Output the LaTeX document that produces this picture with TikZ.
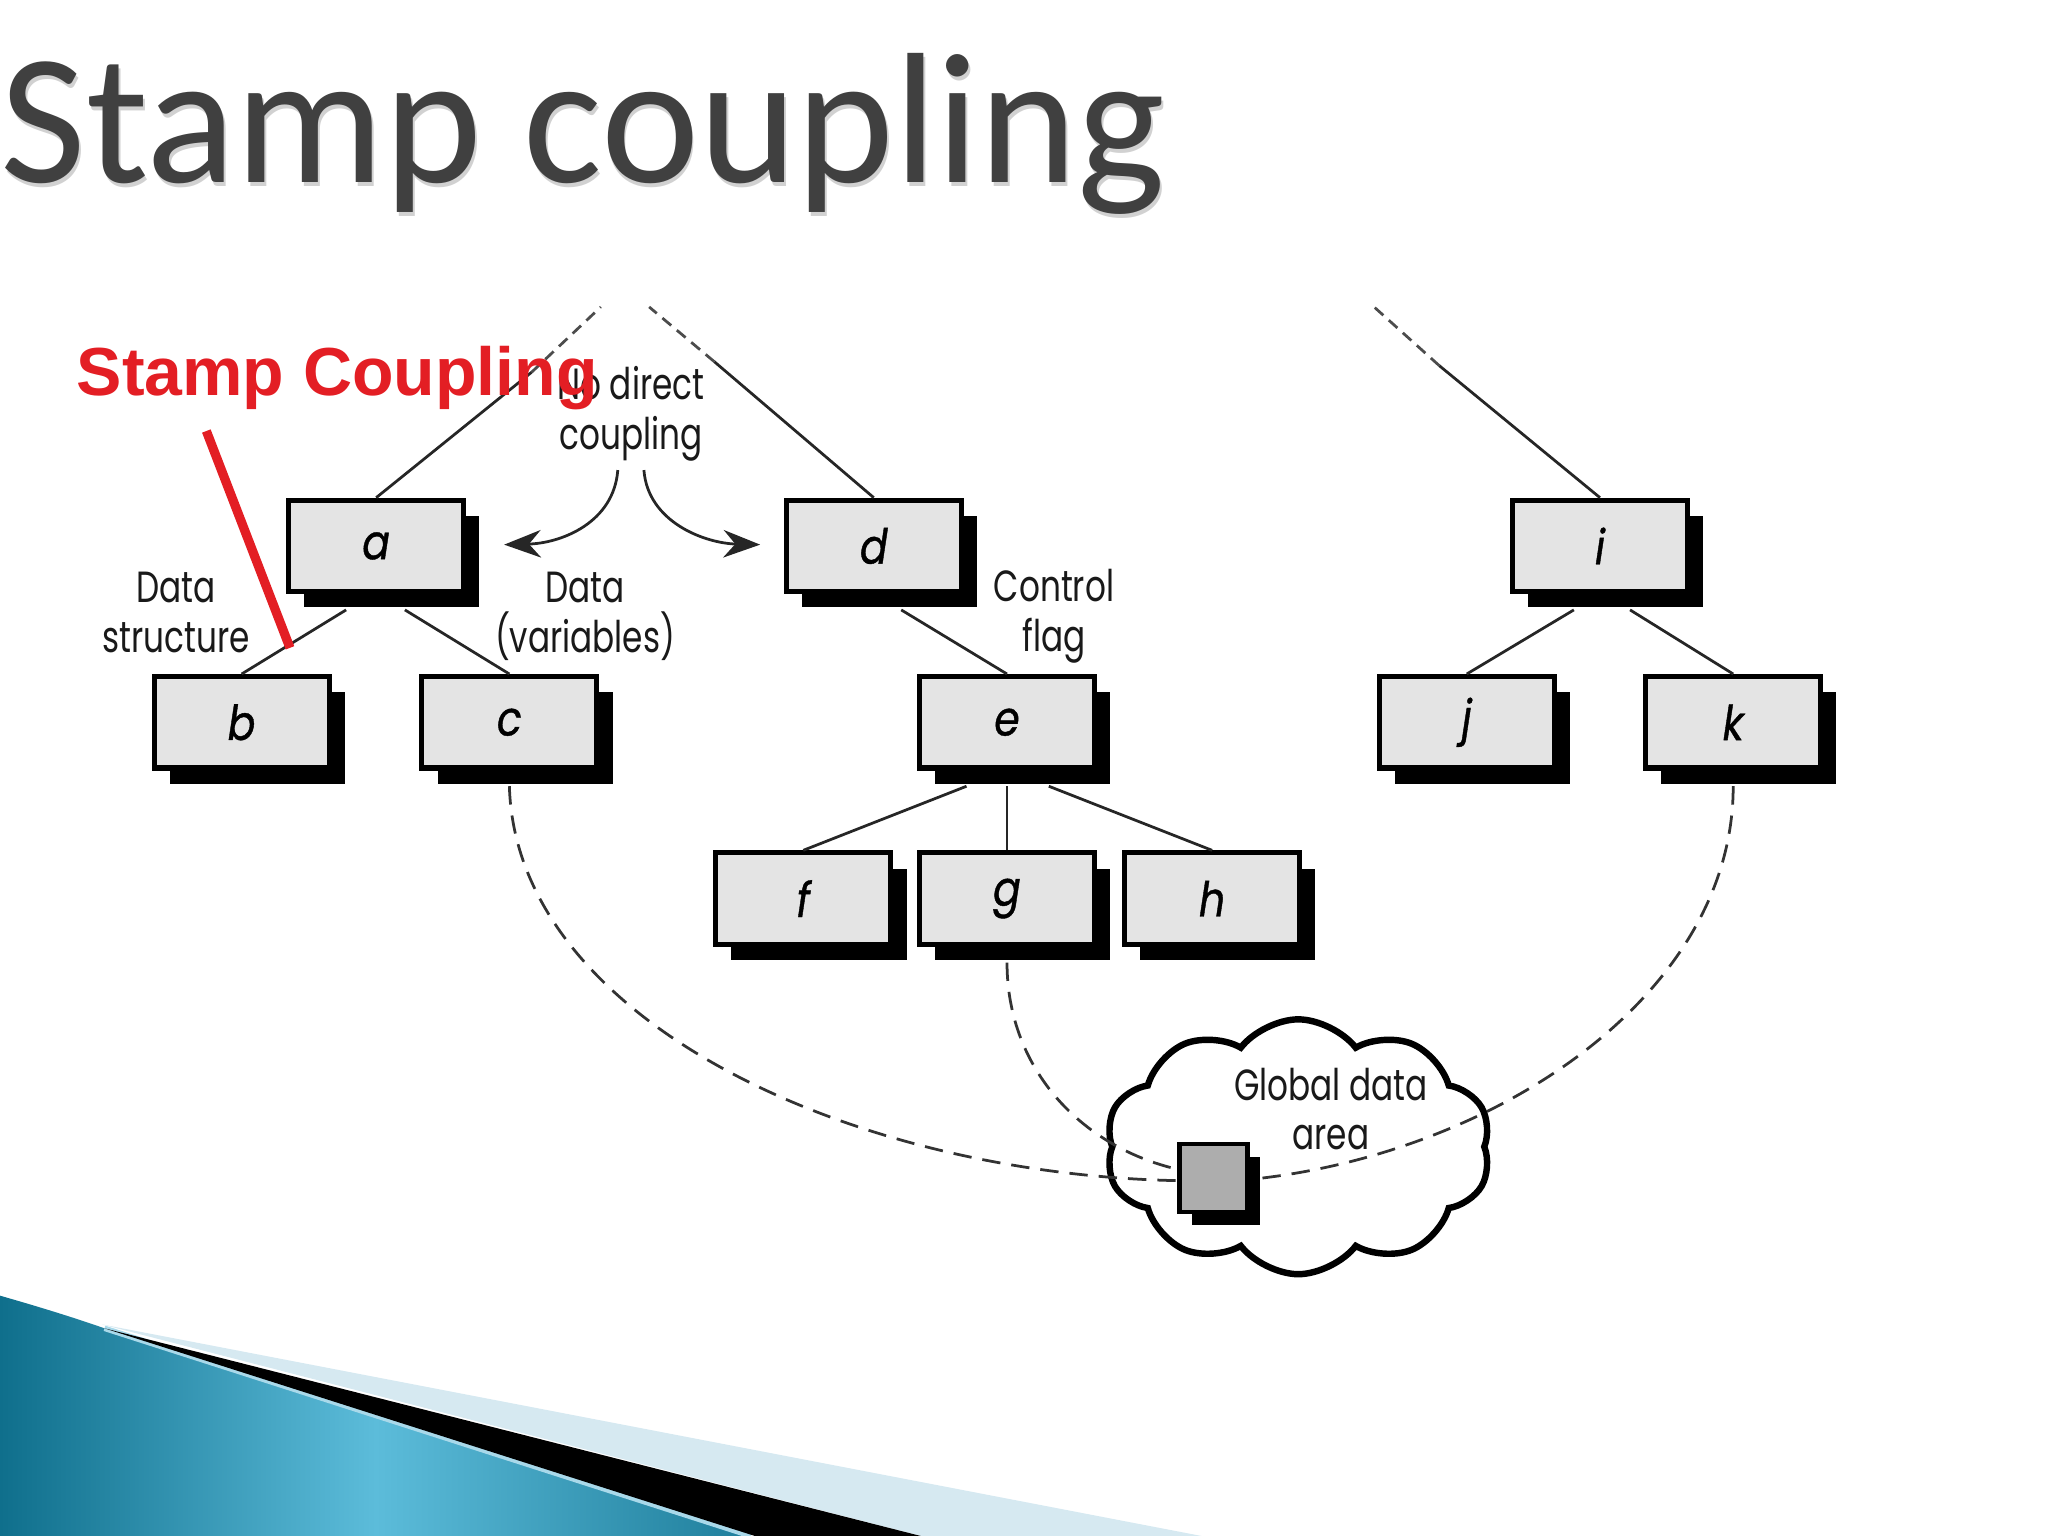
\documentclass[tikz,border=0pt]{standalone}
\usepackage{fontspec}
\setmainfont{Carlito}
\newfontfamily\diafont[FakeStretch=0.75]{Poppins}
\newfontfamily\letterfont[FakeStretch=0.85,FakeBold=0.8]{Poppins}
\newfontfamily\redfont{Liberation Sans}
\usepackage{xcolor}
\usepackage{tikz}
\usetikzlibrary{positioning,calc,shapes.symbols,shadows,arrows.meta}

\definecolor{titlegray}{HTML}{404040}
\definecolor{boxgray}{HTML}{E4E4E4}
\definecolor{sqgray}{HTML}{ADADAD}
\definecolor{stampred}{HTML}{E31E24}
\definecolor{swdark}{HTML}{0F6F8C}
\definecolor{swlight}{HTML}{5CBCDA}
\definecolor{swpale}{HTML}{D6E9F1}
\definecolor{swedge}{HTML}{A9D9EA}

\tikzset{
  modbox/.style={draw=black, line width=1.1pt, fill=boxgray,
    minimum width=1.34cm, minimum height=0.70cm, inner sep=0pt,
    font=\letterfont\itshape\fontsize{10.5}{12}\selectfont,
    drop shadow={shadow xshift=0.12cm, shadow yshift=-0.12cm, fill=black, opacity=1}},
  tline/.style={line width=0.6pt, black!85},
  topdash/.style={line width=0.6pt, black!70, dash pattern=on 2.5pt off 1.6pt},
  globdash/.style={line width=0.6pt, black!80, dash pattern=on 4pt off 2.4pt},
  lbl/.style={align=center, inner sep=0pt, text=black!90,
    font=\diafont\fontsize{9.5}{10.8}\selectfont}
}

\begin{document}
\begin{tikzpicture}[x=0.01cm,y=-0.01cm]
  \useasboundingbox (0,0) rectangle (1568,1176);

  % titel
  \node[anchor=base west, inner sep=0pt, text=black!18, font=\fontsize{40.5}{42}\selectfont] at (1.5,143) {Stamp coupling};
  \node[anchor=base west, inner sep=0pt, text=titlegray, font=\fontsize{40.5}{42}\selectfont] (title) at (0,140) {Stamp coupling};

  % streifen unten
  \shade[left color=swdark, right color=swdark!80!swlight, middle color=swlight]
    (0,992) .. controls (35,1002) and (60,1010) .. (80,1017) -- (575,1176) -- (0,1176) -- cycle;
  \draw[swedge, line width=1.2pt] (80,1017) -- (575,1176);
  \fill[swpale] (78,1014) -- (920,1176) -- (705,1176) -- cycle;
  \fill[black] (80,1017) -- (705,1176) -- (578,1176) -- cycle;

  % module
  \foreach \nm/\x/\y in {a/288/418, d/669/418, i/1225/418,
                         b/185/553, c/390/553, e/771/553, j/1123/553, k/1327/553,
                         f/615/688, g/771/688, h/928/688}
    \node[modbox] (\nm) at (\x,\y) {\nm};

  % aufrufe
  \foreach \p/\c/\dx in {a/b/-23, a/c/22, d/e/21, e/f/-31, e/g/0, e/h/32, i/j/-20, i/k/23}
    \draw[tline] ($(\p.south)+(\dx,12)$) -- (\c.north);

  % nach oben offen
  \coordinate (atop) at (460,235);
  \coordinate (abrk) at (407,285);
  \coordinate (dtop) at (497,235);
  \coordinate (dbrk) at (547,277);
  \coordinate (itop) at (1052,235);
  \coordinate (ibrk) at (1102,280);
  \draw[tline] (a.north) -- (abrk);
  \draw[topdash] (abrk) -- (atop);
  \draw[tline] (d.north) -- (dbrk);
  \draw[topdash] (dbrk) -- (dtop);
  \draw[tline] (i.north) -- (ibrk);
  \draw[topdash] (ibrk) -- (itop);

  % beschriftungen
  \node[lbl] (nodir) at (483,317) {No direct\\coupling};
  \node[lbl] (dstr) at (135,469) {Data\\structure};
  \node[lbl] (dvar) at (448,472) {Data\\(variables)};
  \node[lbl] (cflag) at (807,472) {Control\\flag};

  \coordinate (lend) at (386,417);
  \coordinate (rend) at (582,417);
  \draw[tline, -{Stealth[length=8pt,width=6pt]}] ($(nodir.south)+(-10,6)$) .. controls (470,400) and (430,416) .. (lend);
  \draw[tline, -{Stealth[length=8pt,width=6pt]}] ($(nodir.south)+(10,6)$) .. controls (496,400) and (540,416) .. (rend);

  % globale daten
  \node[cloud, draw, line width=1.4pt, cloud puffs=10, cloud puff arc=105, aspect=1.5,
        minimum width=2.95cm, minimum height=1.95cm] (glob) at (994,878) {};
  \node[lbl] (gtxt) at (1019,849) {Global data\\area};

  \draw[globdash] ($(c.south)+(0,12)$) .. controls (395,780) and (650,900) .. (905,904);
  \draw[globdash] ($(g.south)+(0,12)$) .. controls (771,820) and (830,880) .. (905,896);
  \draw[globdash] ($(k.south)+(0,12)$) .. controls (1327,760) and (1150,880) .. (966,902);

  \node[draw=black, line width=1pt, fill=sqgray, minimum size=0.52cm, inner sep=0pt,
        drop shadow={shadow xshift=0.10cm, shadow yshift=-0.10cm, fill=black, opacity=1}] (sq) at (929,902) {};

  % rote markierung
  \node[anchor=base west, inner sep=0pt, text=stampred, font=\redfont\bfseries\fontsize{14.8}{16}\selectfont] (stamp) at (58,303) {Stamp Coupling};
  \coordinate (redtop) at (158,330);
  \coordinate (redend) at (222,496);
  \draw[stampred, line width=2pt] (redtop) -- (redend);
\end{tikzpicture}
\end{document}
